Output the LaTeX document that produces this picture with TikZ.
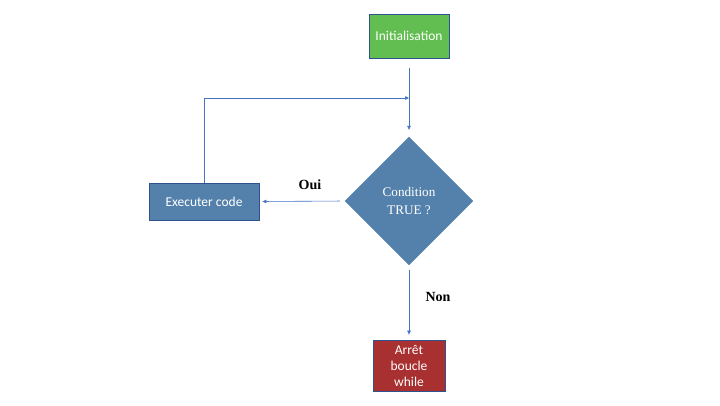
\documentclass[tikz,border=0pt]{standalone}
\usepackage{fontspec}
\setmainfont{Liberation Serif}
\newfontfamily\calib{Carlito}
\usetikzlibrary{shapes.geometric,arrows.meta}
\definecolor{initgreen}{RGB}{98,190,80}
\definecolor{boxblue}{RGB}{84,129,171}
\definecolor{stopred}{RGB}{168,48,48}
\definecolor{edgeblue}{RGB}{47,82,143}
\definecolor{linkblue}{RGB}{68,114,196}
\tikzset{
  procbox/.style={draw=edgeblue, line width=0.8pt, text=white, font=\calib\fontsize{13.5}{16}\selectfont, align=center, inner sep=0pt},
  decision/.style={diamond, fill=boxblue, draw=boxblue, text=white, font=\fontsize{13.2}{18}\selectfont, align=center, minimum width=128pt, minimum height=128pt, inner sep=0pt},
  link/.style={draw=linkblue, line width=0.6pt, -{Triangle[length=4pt,width=3.5pt]}},
  lbl/.style={font=\bfseries\fontsize{14}{16}\selectfont, text=black}
}
\begin{document}
\begin{tikzpicture}[x=1pt,y=-1pt]
\useasboundingbox[fill=white] (0,0) rectangle (720,405);
\node[procbox, fill=initgreen, minimum width=80pt, minimum height=44pt] (init) at (409,36) {Initialisation};
\node[decision] (cond) at (409,201) {Condition\\TRUE ?};
\node[procbox, fill=boxblue, minimum width=110pt, minimum height=37pt] (exec) at (204,201.5) {Executer code};
\node[procbox, fill=stopred, minimum width=72pt, minimum height=51pt] (stop) at (409,365.5) {Arrêt\\boucle\\while};
\coordinate (loopend) at (409,98);
\draw[link, shorten <=10pt, shorten >=7pt] (init.south) -- (cond.north);
\draw[link] (exec.north) |- (loopend);
\draw[link, shorten <=5pt, shorten >=3pt] (cond.west) -- (exec.east);
\draw[link, shorten <=5pt, shorten >=5pt] (cond.south) -- (stop.north);
\node[lbl] (oui) at (310,185) {Oui};
\node[lbl] (non) at (438,297) {Non};
\end{tikzpicture}
\end{document}
